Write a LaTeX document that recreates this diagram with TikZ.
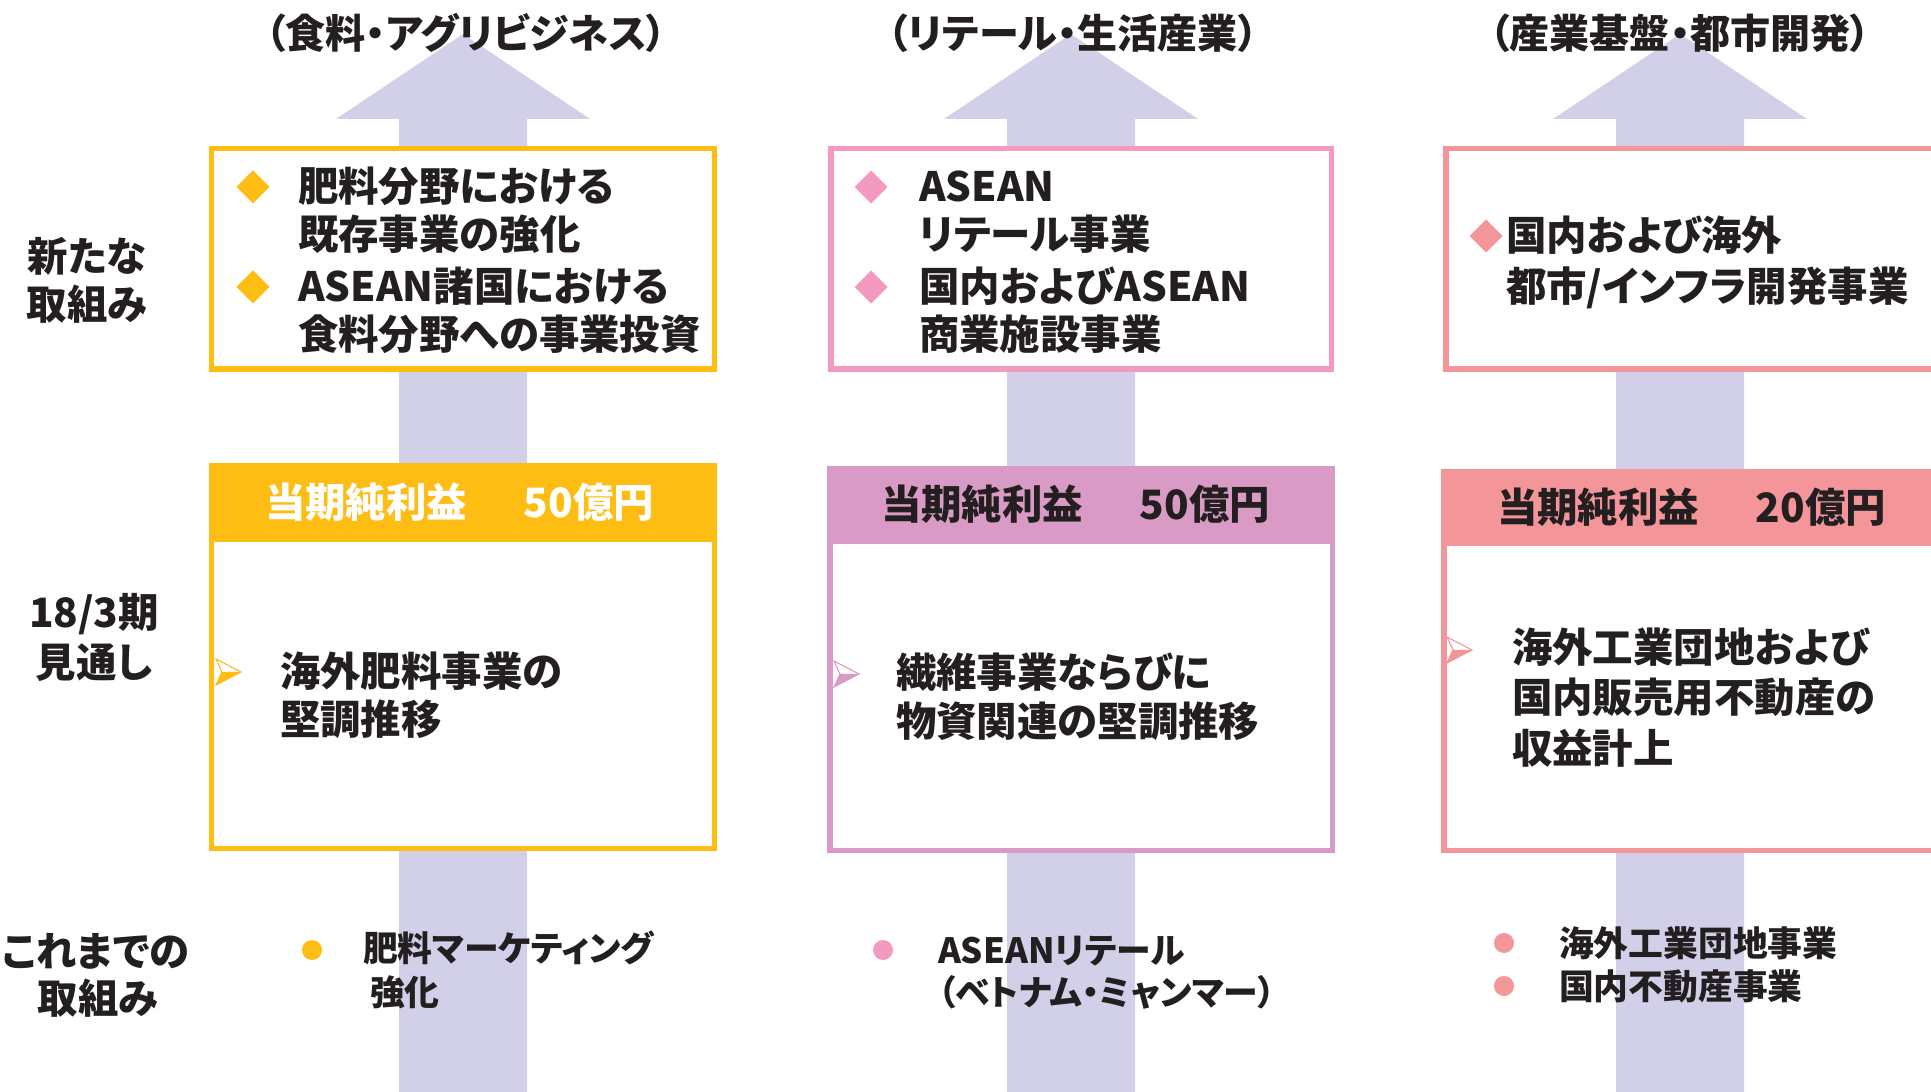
\documentclass[tikz,border=0pt]{standalone}
\usepackage{fontspec}
\setmainfont{Noto Sans CJK JP}[RawFeature={+palt}]
\definecolor{lav}{HTML}{D2D0E8}
\definecolor{yel}{HTML}{FDBD13}
\definecolor{pnk}{HTML}{F49AC1}
\definecolor{mauve}{HTML}{D99BC5}
\definecolor{salmon}{HTML}{F39599}
\definecolor{ink}{HTML}{231F20}
\newcommand\fmain{\fontsize{11.5pt}{13pt}\selectfont\bfseries}
\newcommand\fsmall{\fontsize{9.9pt}{12pt}\selectfont\bfseries}
\newcommand\ftitle{\fontsize{11.4pt}{13pt}\selectfont\bfseries}
\newcommand\mydia[3]{\fill[#3] (#1-16.5,#2) -- (#1,#2-16.5) -- (#1+16.5,#2) -- (#1,#2+16.5) -- cycle;}
\newcommand\mymark[3]{\fill[#3] (#1+6,#2) -- (#1+25,#2) -- (#1,#2+13) -- cycle;
  \draw[#3, line width=0.3pt, line join=miter] (#1,#2-13) -- (#1+25,#2) -- (#1,#2+13) -- (#1+6,#2) -- cycle;}
\tikzset{
  txt/.style={inner sep=0pt, outer sep=0pt, anchor=base west, text=ink, font=\fmain},
  ctxt/.style={inner sep=0pt, outer sep=0pt, anchor=base, text=ink, font=\fmain},
  ttl/.style={inner sep=0pt, outer sep=0pt, anchor=base, text=ink, font=\ftitle},
  stxt/.style={inner sep=0pt, outer sep=0pt, anchor=base west, text=ink, font=\fsmall},
  bx/.style={line width=1.56pt, fill=white},
}
\begin{document}
\begin{tikzpicture}[x=0.01cm, y=-0.01cm]
\clip (0,0) rectangle (1931,1092);
\fill[white] (0,0) rectangle (1931,1092);

% big arrows
\foreach \c in {463,1071,1680}
  \fill[lav] (\c-64,1100) -- (\c-64,119) -- (\c-127,119) -- (\c,34) -- (\c+127,119) -- (\c+64,119) -- (\c+64,1100) -- cycle;

% titles
\node[ttl] (t1) at (466,49) {（食料・アグリビジネス）};
\node[ttl] (t2) at (1073,49) {（リテール・生活産業）};
\node[ttl] (t3) at (1680,49) {（産業基盤・都市開発）};

% left labels
\node[ctxt] (l1a) at (87,272) {新たな};
\node[ctxt] (l1b) at (87,320) {取組み};
\node[ctxt] (l2a) at (94,628) {18/3期};
\node[ctxt] (l2b) at (94,678) {見通し};
\node[ctxt] (l3a) at (96,966) {これまでの};
\node[ctxt] (l3b) at (98,1013) {取組み};

% top boxes
\draw[bx, draw=yel] (211.75,148.75) rectangle (714.25,369.25);
\draw[bx, draw=pnk] (830.75,148.75) rectangle (1331.25,369.25);
\draw[bx, draw=salmon] (1445.75,148.75) rectangle (1990,369.25);

\mydia{253}{187}{yel}
\mydia{253}{287}{yel}
\node[txt] (a1) at (298,202) {肥料分野における};
\node[txt] (a2) at (298,250) {既存事業の強化};
\node[txt] (a3) at (298,302) {ASEAN諸国における};
\node[txt] (a4) at (298,350) {食料分野への事業投資};

\mydia{871}{187}{pnk}
\mydia{871}{287}{pnk}
\node[txt] (b1) at (919,202) {ASEAN};
\node[txt] (b2) at (919,250) {リテール事業};
\node[txt] (b3) at (919,302) {国内およびASEAN};
\node[txt] (b4) at (919,350) {商業施設事業};

\mydia{1486}{236}{salmon}
\node[txt] (c1) at (1506,251) {国内および海外};
\node[txt] (c2) at (1506,302) {都市/インフラ開発事業};

% middle boxes
\draw[bx, draw=yel] (211.75,465.75) rectangle (714.25,848.25);
\fill[yel] (209,463) rectangle (717,542);
\node[txt, text=white] (h1) at (265,518) {当期純利益\hspace{1.4em}50億円};

\draw[bx, draw=mauve] (829.75,468.75) rectangle (1332.25,850.25);
\fill[mauve] (827,466) rectangle (1335,544);
\node[txt] (h2) at (881,520) {当期純利益\hspace{1.4em}50億円};

\draw[bx, draw=salmon] (1443.75,471.75) rectangle (1990,850.25);
\fill[salmon] (1441,469) rectangle (1990,546);
\node[txt] (h3) at (1497,523) {当期純利益\hspace{1.4em}20億円};

\mymark{216}{672}{yel}
\node[txt] (d1) at (280,687) {海外肥料事業の};
\node[txt] (d2) at (280,735) {堅調推移};

\mymark{834}{674}{mauve}
\node[txt] (e1) at (896,688) {繊維事業ならびに};
\node[txt] (e2) at (896,737) {物資関連の堅調推移};

\mymark{1447}{650}{salmon}
\node[txt] (f1) at (1512,663) {海外工業団地および};
\node[txt] (f2) at (1512,713) {国内販売用不動産の};
\node[txt] (f3) at (1512,763) {収益計上};

% bottom
\fill[yel] (312,950) circle[radius=10];
\node[stxt] (g1) at (363,961) {肥料マーケティング};
\node[stxt] (g2) at (370,1005) {強化};

\fill[pnk] (883,950) circle[radius=10];
\node[stxt] (g3) at (938,963) {ASEANリテール};
\node[stxt] (g4) at (938,1005) {（ベトナム・ミャンマー）};

\fill[salmon] (1504,943) circle[radius=10];
\fill[salmon] (1504,986) circle[radius=10];
\node[stxt] (g5) at (1559,956) {海外工業団地事業};
\node[stxt] (g6) at (1559,999) {国内不動産事業};
\end{tikzpicture}
\end{document}
